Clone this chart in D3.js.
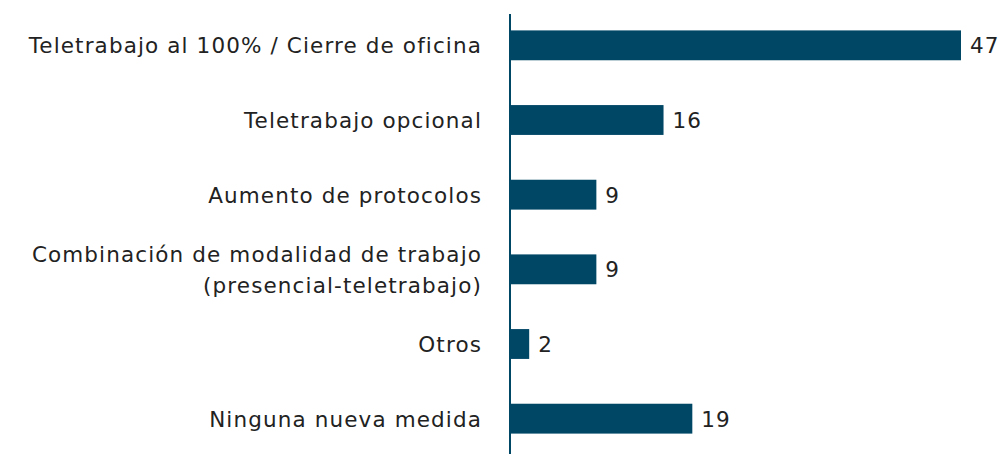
<!DOCTYPE html>
<html><head><meta charset="utf-8">
<script src="https://cdn.jsdelivr.net/npm/d3@7"></script>
<style>body{margin:0;background:#fff}svg{display:block}</style>
</head><body>
<svg id="c" width="999" height="454"></svg>
<script>
const categories = [
  ["Teletrabajo al 100% / Cierre de oficina"],
  ["Teletrabajo opcional"],
  ["Aumento de protocolos"],
  ["Combinación de modalidad de trabajo", "(presencial-teletrabajo)"],
  ["Otros"],
  ["Ninguna nueva medida"]
];
const values = [47, 16, 9, 9, 2, 19];

const svg = d3.select("#c");
const W = 999, H = 454;
const x0 = 510;
const x = d3.scaleLinear().domain([0, 47]).range([x0, 961]);
const keys = categories.map((d, i) => i);
const y = d3.scaleBand().domain(keys).range([8, 456]).paddingInner(0.6).paddingOuter(0.3);
const color = "#004766";
const font = "'DejaVu Sans', sans-serif";
const fs = 21.5;
const ls = 1.12;

svg.selectAll("rect.bar").data(values).join("rect")
  .attr("class", "bar")
  .attr("x", x(0))
  .attr("y", (d, i) => y(i))
  .attr("width", d => x(d) - x(0))
  .attr("height", y.bandwidth())
  .attr("fill", color);

svg.append("line")
  .attr("x1", x0).attr("x2", x0).attr("y1", 14).attr("y2", H)
  .attr("stroke", color).attr("stroke-width", 2);

const lh = 31;
svg.selectAll("text.cat").data(categories).join("text")
  .attr("class", "cat")
  .attr("x", x0 - 28)
  .attr("y", (d, i) => y(i) + y.bandwidth() / 2 + 8 - (d.length - 1) * lh / 2)
  .attr("text-anchor", "end")
  .attr("font-family", font).attr("font-size", fs).attr("fill", "#222")
  .attr("letter-spacing", ls)
  .each(function(d) {
    d3.select(this).selectAll("tspan").data(d).join("tspan")
      .attr("x", x0 - 28)
      .attr("dy", (t, j) => j === 0 ? 0 : lh)
      .text(t => t);
  });

svg.selectAll("text.val").data(values).join("text")
  .attr("class", "val")
  .attr("x", d => x(d) + 9)
  .attr("y", (d, i) => y(i) + y.bandwidth() / 2 + 8)
  .attr("font-family", font).attr("font-size", fs).attr("fill", "#222")
  .attr("letter-spacing", ls)
  .text(d => d);
</script>
</body></html>
